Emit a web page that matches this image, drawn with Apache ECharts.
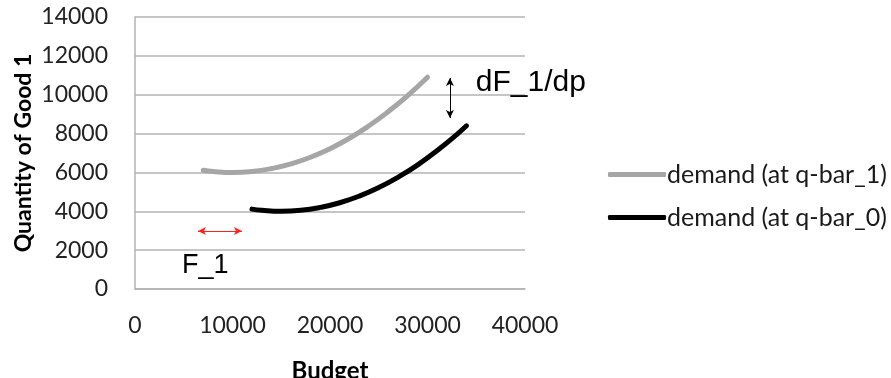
<!DOCTYPE html>
<html>
<head>
<meta charset="utf-8">
<script src="https://cdn.jsdelivr.net/npm/echarts@6/dist/echarts.min.js"></script>
<style>
html,body{margin:0;padding:0;background:#fff;}
#chart{width:891px;height:378px;}
</style>
</head>
<body>
<div id="chart"></div>
<script>
// Data
var seriesNames = ['demand (at q-bar_1)', 'demand (at q-bar_0)'];
var budgetQ1 = [7000, 8000, 10000, 12000, 14000, 16000, 18000, 20000, 22000, 24000, 26000, 28000, 30000];
var demandQ1 = [6110, 6050, 6000, 6050, 6200, 6440, 6780, 7225, 7760, 8400, 9140, 9970, 10900];
var budgetQ0 = [12000, 13000, 15000, 17000, 19000, 21000, 23000, 25000, 27000, 29000, 31000, 33000, 34000];
var demandQ0 = [4110, 4050, 4000, 4050, 4200, 4440, 4780, 5220, 5760, 6390, 7130, 7950, 8400];
var yTicks = [0, 2000, 4000, 6000, 8000, 10000, 12000, 14000];
var xTicks = [0, 10000, 20000, 30000, 40000];
// Annotations (data coordinates)
var arrowDF = [[32300, 10860], [32300, 8800]];
var arrowF1 = [[6460, 2985], [10970, 2985]];
var labelDF = {text: 'dF_1/dp', coord: [34950, 10600]};
var labelF1 = {text: 'F_1', coord: [4820, 1190]};

function pairs(xs, ys) { return xs.map(function (x, i) { return [x, ys[i]]; }); }
function plain(v) { return String(v); }

var chart = echarts.init(document.getElementById('chart'), null, {renderer: 'canvas'});
var axisFont = 'Lato, "Open Sans", sans-serif';
chart.setOption({
  animation: false,
  backgroundColor: '#fff',
  grid: {left: 135, right: 366, top: 17, bottom: 89, containLabel: false, outerBoundsMode: 'none'},
  xAxis: {
    type: 'value', min: xTicks[0], max: xTicks[xTicks.length - 1], interval: 10000,
    name: 'Budget', nameLocation: 'middle', nameGap: 70,
    nameTextStyle: {fontFamily: axisFont, fontWeight: 'bold', fontSize: 24, color: '#000'},
    axisLine: {show: true, lineStyle: {color: '#b3b3b3', width: 1.5}},
    axisTick: {show: false},
    splitLine: {show: false},
    axisLabel: {fontFamily: axisFont, fontSize: 23, color: '#222', margin: 25, formatter: plain}
  },
  yAxis: {
    type: 'value', min: yTicks[0], max: yTicks[yTicks.length - 1], interval: 2000,
    name: 'Quantity of Good 1', nameLocation: 'middle', nameGap: 100, nameRotate: 90,
    nameTextStyle: {fontFamily: axisFont, fontWeight: 'bold', fontSize: 23, color: '#000'},
    axisLine: {show: true, lineStyle: {color: '#b3b3b3', width: 1.5}},
    axisTick: {show: false},
    splitLine: {show: true, lineStyle: {color: '#b3b3b3', width: 1.5}},
    axisLabel: {fontFamily: axisFont, fontSize: 23, color: '#222', margin: 27, padding: [6, 0, 0, 0], formatter: plain}
  },
  legend: {
    orient: 'vertical', left: 603, top: 157, itemGap: 18,
    itemWidth: 58, itemHeight: 5, icon: 'roundRect',
    textStyle: {fontFamily: axisFont, fontSize: 25, color: '#1a1a1a', padding: [12, 0, 0, -4]},
    data: seriesNames
  },
  series: [
    {
      name: seriesNames[0], type: 'line', smooth: true, showSymbol: false,
      data: pairs(budgetQ1, demandQ1),
      lineStyle: {color: '#a6a6a6', width: 5, cap: 'round'}, itemStyle: {color: '#a6a6a6'},
      markLine: {
        silent: true, symbol: ['arrow', 'arrow'], symbolSize: [6, 8],
        label: {show: false},
        lineStyle: {color: '#000', width: 1, type: 'solid'},
        data: [[{coord: arrowDF[0]}, {coord: arrowDF[1]}]]
      },
      markPoint: {
        silent: true, symbol: 'circle', symbolSize: 0,
        label: {show: true, position: 'right', distance: 0, formatter: labelDF.text,
          fontFamily: '"Liberation Sans", Arial, sans-serif', fontSize: 30, color: '#000'},
        data: [{coord: labelDF.coord}]
      }
    },
    {
      name: seriesNames[1], type: 'line', smooth: true, showSymbol: false,
      data: pairs(budgetQ0, demandQ0),
      lineStyle: {color: '#000', width: 5, cap: 'round'}, itemStyle: {color: '#000'},
      markLine: {
        silent: true, symbol: ['arrow', 'arrow'], symbolSize: [6, 8],
        label: {show: false},
        lineStyle: {color: '#ff2020', width: 1, type: 'solid'},
        data: [[{coord: arrowF1[0]}, {coord: arrowF1[1]}]]
      },
      markPoint: {
        silent: true, symbol: 'circle', symbolSize: 0,
        label: {show: true, position: 'right', distance: 0, formatter: labelF1.text,
          fontFamily: '"Liberation Sans", Arial, sans-serif', fontSize: 27, color: '#000'},
        data: [{coord: labelF1.coord}]
      }
    }
  ]
});
</script>
</body>
</html>
